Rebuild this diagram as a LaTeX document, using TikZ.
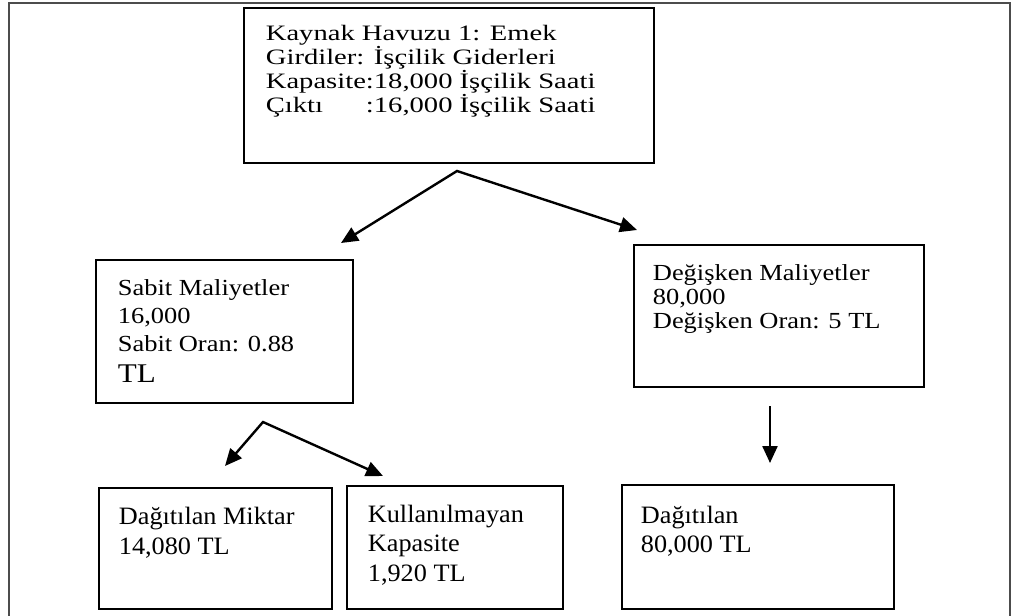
\documentclass[tikz,border=0pt]{standalone}
\usepackage{calc}
\usepackage{fontspec}
\setmainfont{Liberation Serif}[FakeStretch=1.05]
\newfontfamily\widefont{Liberation Serif}[FakeStretch=1.3]
\newfontfamily\midfont{Liberation Serif}[FakeStretch=1.15]
\usetikzlibrary{arrows.meta}

\tikzset{
  cellbox/.style={draw,line width=1.8pt,anchor=north west,inner xsep=22pt,inner ysep=18pt,
    font=\fontsize{25}{29.5}\selectfont},
  widecell/.style={cellbox,font=\widefont\fontsize{22}{23.8}\selectfont},
  flowarrow/.style={-{Triangle[length=17pt,width=15pt]},line width=2.4pt},
  flowfork/.style={{Triangle[length=17pt,width=15pt]}-{Triangle[length=17pt,width=15pt]},
    line width=2.4pt,line join=miter},
  outerframe/.style={draw=black!70,line width=2.4pt}
}

\begin{document}
\begin{tikzpicture}[x=1pt,y=-1pt]
  \useasboundingbox (0,0) rectangle (1013,616);
  \draw[outerframe] (9,640) -- (9,3) -- (1010,3) -- (1010,640);

  % resource pool
  \node[widecell,inner ysep=17.5pt] (havuz) at (243,7)
    {\parbox[t][120pt][t]{366pt}{\raggedright Kaynak Havuzu 1: Emek\\
      Girdiler: İşçilik Giderleri\\
      Kapasite:18,000 İşçilik Saati\\
      \makebox[\widthof{Kapasite}][l]{Çıktı}:16,000 İşçilik Saati}};

  % cost split
  \node[cellbox,inner ysep=20pt,font=\midfont\fontsize{23}{28}\selectfont] (sabit) at (95,259)
    {\parbox[t][103pt][t]{213pt}{\raggedright Sabit Maliyetler\\16,000\\Sabit Oran: 0.88\\[3pt]
      \fontsize{27}{28}\selectfont TL}};
  \node[cellbox,font=\midfont\fontsize{23}{23.8}\selectfont,inner xsep=19pt,inner ysep=20pt] (degisken) at (633,244)
    {\parbox[t][102pt][t]{252pt}{\raggedright Değişken Maliyetler\\80,000\\Değişken Oran: 5 TL}};

  % allocation
  \node[cellbox,inner xsep=20pt,inner ysep=19.5pt] (miktar) at (98,487)
    {\parbox[t][82pt][t]{193pt}{\raggedright Dağıtılan Miktar\\14,080 TL}};
  \node[cellbox,inner xsep=21pt,inner ysep=19pt] (kapasite) at (346,485)
    {\parbox[t][85pt][t]{174pt}{\raggedright Kullanılmayan\\Kapasite\\1,920 TL}};
  \node[cellbox,inner xsep=19pt,inner ysep=21pt] (dagitilan) at (621,484)
    {\parbox[t][82pt][t]{234pt}{\raggedright Dağıtılan\\80,000 TL}};

  \coordinate (havuzsplit) at (457,171);
  \coordinate (sabitucu) at (341,243);
  \coordinate (degiskenucu) at (637,230);
  \coordinate (sabitsplit) at (263,422);
  \coordinate (miktarucu) at (225,466);
  \coordinate (kapasiteucu) at (383,476);
  \coordinate (degiskenalt) at (770,406);
  \coordinate (dagitilanucu) at (770,463);

  \draw[flowfork] (sabitucu) -- (havuzsplit) -- (degiskenucu);
  \draw[flowfork] (miktarucu) -- (sabitsplit) -- (kapasiteucu);
  \draw[flowarrow] (degiskenalt) -- (dagitilanucu);
\end{tikzpicture}
\end{document}
